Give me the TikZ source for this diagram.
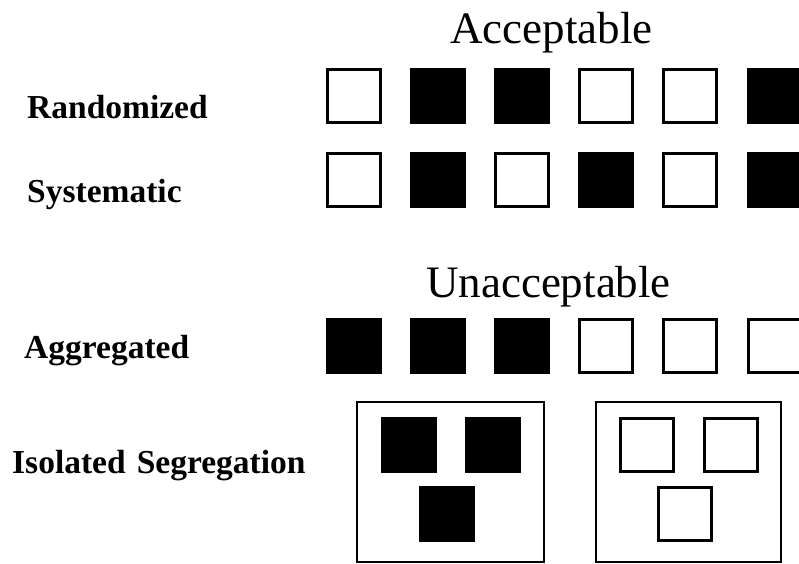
\documentclass[tikz,border=0pt]{standalone}
\usepackage{fontspec}
\setmainfont{Liberation Serif}
\begin{document}
\begin{tikzpicture}[x=1pt,y=-1pt,
  cell/.style={rectangle,draw=black,line width=3pt,minimum size=53pt,inner sep=0pt},
  opencell/.style={cell,fill=white},
  fullcell/.style={cell,fill=black},
  frame/.style={rectangle,draw=black,line width=2pt,inner sep=0pt},
  heading/.style={anchor=base,inner sep=0pt,font=\fontsize{45}{50}\selectfont},
  rowlabel/.style={anchor=base west,inner sep=0pt,font=\fontsize{33.5}{38}\selectfont\bfseries}]
\useasboundingbox (0,0) rectangle (799,563);

% headings
\node[heading] (acc) at (551.5,43) {Acceptable};
\node[heading] (unacc) at (548.5,297) {Unacceptable};

% row labels
\node[rowlabel] (lrand) at (27,118) {Randomized};
\node[rowlabel] (lsys) at (27,202) {Systematic};
\node[rowlabel] (lagg) at (24,358) {Aggregated};
\node[rowlabel] (liso) at (12,473) {Isolated\hspace{0.33em}Segregation};

% randomized row
\foreach \k/\s in {1/opencell,2/fullcell,3/fullcell,4/opencell,5/opencell,6/fullcell}
  \node[\s] (r\k) at ({353.5+84.2*(\k-1)},96) {};
% systematic row
\foreach \k/\s in {1/opencell,2/fullcell,3/opencell,4/fullcell,5/opencell,6/fullcell}
  \node[\s] (s\k) at ({353.5+84.2*(\k-1)},179.5) {};
% aggregated row
\foreach \k/\s in {1/fullcell,2/fullcell,3/fullcell,4/opencell,5/opencell,6/opencell}
  \node[\s] (a\k) at ({353.5+84.2*(\k-1)},346) {};

% isolated segregation: two framed groups
\node[frame,minimum width=187pt,minimum height=160pt] (boxL) at (450.5,482) {};
\node[frame,minimum width=185pt,minimum height=160pt] (boxR) at (688.5,482) {};

\node[fullcell] (iL1) at (408.5,445) {};
\node[fullcell] (iL2) at (493,445) {};
\node[fullcell] (iL3) at (447,513.5) {};

\node[opencell] (iR1) at (646.5,445) {};
\node[opencell] (iR2) at (730.5,445) {};
\node[opencell] (iR3) at (685,513.5) {};
\end{tikzpicture}
\end{document}
